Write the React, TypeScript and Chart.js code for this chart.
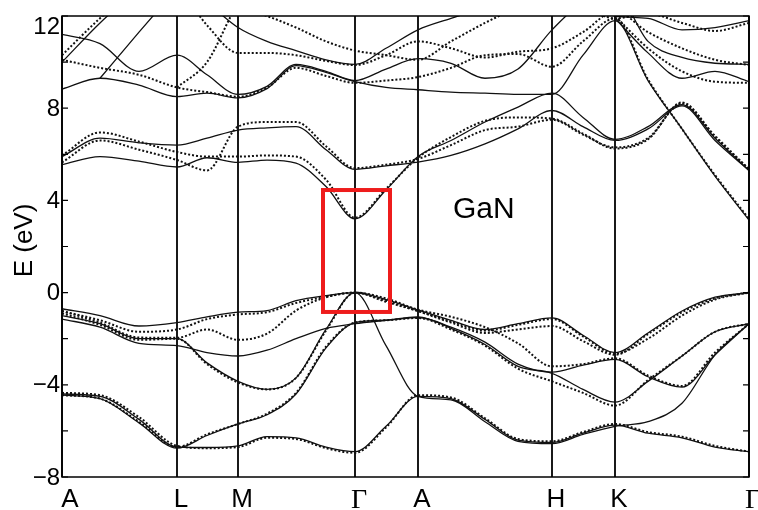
import { useEffect, useRef } from 'react';
import { Chart, registerables } from 'chart.js';

Chart.register(...registerables);

// k-path sample positions (arbitrary path-length units)
const kGrid = [0, 38, 77, 115, 145, 176, 205, 234, 264, 293, 324, 356, 389, 423, 456, 490, 521, 553, 586, 620, 653, 687];
const symK = [0, 115, 176, 293, 356, 490, 553, 687];
const symLabels = ['A', 'L', 'M', 'Γ', 'A', 'H', 'K', 'Γ'];
const yTicks = [-8, -6, -4, -2, 0, 2, 4, 6, 8, 10, 12];
const yLabelTicks = [-8, -4, 0, 4, 8, 12];
const highlightK = [261, 328];
const highlightE = [-0.84, 4.45];
const materialLabel = 'GaN';
const materialPos = [391, 3.25];

// Valence bands (eV) on kGrid
const VS1 = [-4.4, -4.5, -5.5, -6.7, -6.72, -6.65, -6.25, -6.3, -6.7, -6.9, -5.8, -4.5, -4.6, -5.5, -6.4, -6.5, -6.1, -5.75, -6.1, -6.3, -6.7, -6.9];
const VD1 = [-4.35, -4.45, -5.4, -6.65, -6.75, -6.7, -6.3, -6.35, -6.75, -6.95, -5.85, -4.45, -4.55, -5.45, -6.35, -6.45, -6.05, -5.7, -6.05, -6.25, -6.65, -6.9];
const VS2 = [-4.45, -4.6, -5.65, -6.75, -6.2, -5.7, -5.3, -4.4, -2.4, -1.3, -1.2, -1.08, -1.5, -2.15, -3.1, -3.45, -3.15, -2.9, -3.65, -4.1, -2.7, -1.35];
const VD2 = [-4.45, -4.6, -5.6, -6.7, -6.15, -5.7, -5.25, -4.35, -2.35, -1.3, -1.2, -1.1, -1.6, -2.3, -3.3, -3.85, -4.35, -4.9, -3.8, -2.75, -1.7, -1.35];
const VS3 = [-1.15, -1.5, -2.2, -2.3, -2.6, -2.75, -2.5, -2.0, -1.55, -1.35, -1.2, -1.05, -1.55, -2.25, -3.2, -3.5, -4.2, -4.75, -3.85, -2.75, -1.7, -1.35];
const VD3 = [-0.8, -1.3, -1.95, -1.96, -1.6, -2.05, -1.78, -0.78, -0.2, 0, -0.4, -0.8, -1.25, -1.65, -1.4, -1.15, -1.9, -2.65, -2.0, -1.0, -0.3, 0];
const VS4 = [-0.7, -1.0, -1.45, -1.3, -1.05, -0.85, -0.78, -0.35, -0.13, 0, -0.3, -0.75, -1.2, -1.6, -1.35, -1.1, -1.85, -2.6, -1.75, -0.8, -0.2, 0];
const VD4 = [-0.8, -1.2, -1.7, -1.6, -1.15, -0.95, -0.85, -0.45, -0.18, 0, -0.35, -0.8, -1.3, -1.75, -1.6, -1.45, -2.1, -2.7, -1.8, -0.85, -0.25, 0];
const VS5 = [-1.0, -1.35, -2.0, -2.0, -3.05, -3.85, -4.2, -3.7, -1.6, 0, -2.3, -4.5, -4.65, -5.6, -6.45, -6.55, -6.15, -5.8, -5.6, -4.8, -2.7, -1.35];
const VD5 = [-0.9, -1.4, -2.05, -2.0, -3.1, -3.9, -4.2, -3.7, -1.65, 0, -0.25, -0.74, -1.05, -1.5, -2.2, -3.2, -3.1, -2.85, -3.6, -4.05, -2.6, -1.35];

// Conduction bands (eV) on kGrid (null = not drawn)
const N = null;
const CS1 = [5.55, 5.9, 5.7, 5.45, 5.85, 5.65, 5.75, 5.62, 4.6, 3.2, 4.45, 5.9, 6.6, 7.4, 8.05, 8.65, 7.6, 6.65, 7.2, 8.15, 6.7, 5.3];
const CS2 = [5.9, 6.7, 6.5, 6.4, 6.7, 7.05, 7.15, 7.2, 6.2, 5.35, 5.5, 5.66, 5.95, 6.45, 7.1, 7.9, 7.2, 6.6, 7.1, 8.1, 6.6, 5.3];
const CD1 = [5.65, 6.6, 6.2, 5.75, 5.3, 7.2, 7.4, 7.4, 6.35, 5.4, 5.55, 5.8, 6.4, 7.05, 7.2, 7.5, 6.85, 6.3, 6.7, 8.2, 6.8, 5.35];
const CD2 = [5.95, 6.95, 6.55, 6.1, 5.9, 5.9, 5.95, 5.9, 4.9, 3.25, 4.5, 5.85, 6.75, 7.45, 7.6, 7.55, 6.9, 6.25, 6.65, 8.25, 6.75, 5.35];
const CS3 = [8.83, 9.3, 9.0, 8.5, 8.65, 8.45, 8.85, 9.85, 9.55, 9.15, 8.9, 8.8, 8.7, 8.65, 8.6, 8.6, 10.3, 11.8, 9.2, 7.1, 5.05, 3.15];
const CD3 = [10.1, 9.75, 9.45, 8.9, 8.7, 8.5, 8.9, 9.75, 9.4, 9.1, 9.2, 9.35, 9.75, 10.3, 10.35, 9.8, 10.9, 11.9, 9.25, 7.1, 5.1, 3.2];
const CS4 = [11.2, 10.8, 9.6, 10.3, 9.45, 8.6, 8.95, 9.9, 9.6, 9.2, 9.7, 10.15, 9.95, 9.3, 9.7, 11.4, 12.6, 13.0, 10.9, 10.2, 9.95, 9.9];
const CD4 = [13.5, 13.5, 13.5, 13.2, 11.6, 10.4, 10.4, 10.3, 10.05, 9.87, 10.3, 10.9, 10.6, 10.2, 10.45, 10.6, 11.3, 12.2, 11.3, 10.6, 10.1, 9.87];
const CD5 = [N, N, N, 8.9, 10.0, 12.5, 13.5, N, N, N, N, N, N, N, N, N, N, N, N, N, N, N];
const CS5 = [10.0, 11.7, 13.2, N, N, N, N, N, N, N, N, N, N, N, N, N, N, N, N, N, N, N];
const CD9 = [10.3, 11.9, 13.3, N, N, N, N, N, N, N, N, N, N, N, N, N, N, N, N, N, N, N];
const CS6 = [N, 9.3, 11.3, 13.2, N, N, N, N, N, N, N, N, N, N, N, N, N, N, N, N, N, N];
const CS7 = [N, N, N, N, 12.6, 11.5, 10.9, 10.5, 10.1, 9.9, 10.6, 11.4, 11.9, 12.4, 13.2, N, N, N, N, N, N, N];
const CD6 = [N, N, N, N, N, 12.4, 12.0, 11.5, 10.9, 10.5, 10.3, 10.1, 10.9, 11.7, 12.4, 13.2, N, N, N, N, N, N];
const CS8 = [N, N, N, N, N, N, N, N, N, N, N, N, N, N, N, N, 12.6, 12.0, 11.9, 11.4, 11.5, 11.8];
const CD7 = [N, N, N, N, N, N, N, N, N, N, N, N, N, N, N, 13.0, 12.4, 11.9, 12.1, 11.7, 11.35, 11.7];
const CS9 = [N, N, N, N, N, N, N, N, N, N, N, N, N, N, N, N, N, 11.9, 10.4, 9.3, 9.6, 9.15];
const CD8 = [N, N, N, N, N, N, N, N, N, N, N, N, N, N, N, N, N, 12.0, 10.6, 9.6, 9.15, 9.1];

const solidBands = [VS1, VS2, VS3, VS4, VS5, CS1, CS2, CS3, CS4, CS5, CS6, CS7, CS8, CS9];
const dottedBands = [VD1, VD2, VD3, VD4, VD5, CD1, CD2, CD3, CD4, CD5, CD6, CD7, CD8, CD9];

const SANS = '"Liberation Sans", Arial, Helvetica, sans-serif';
const SERIF = '"Liberation Serif", "Times New Roman", serif';

const toPts = (arr: (number | null)[]) => arr.map((e, i) => ({ x: kGrid[i], y: e }));

const overlay = {
  id: 'overlay',
  beforeDatasetsDraw(chart: any) {
    const { ctx, chartArea, scales } = chart;
    const { top, bottom } = chartArea;
    ctx.save();
    ctx.strokeStyle = '#000';
    ctx.lineWidth = 1.8;
    symK.forEach((k) => {
      const px = scales.x.getPixelForValue(k);
      ctx.beginPath();
      ctx.moveTo(px, top);
      ctx.lineTo(px, bottom);
      ctx.stroke();
    });
    ctx.restore();
  },
  afterDatasetsDraw(chart: any) {
    const { ctx, chartArea, scales } = chart;
    const { left, right, top, bottom } = chartArea;
    const xs = scales.x;
    const ys = scales.y;
    ctx.save();
    // frame
    ctx.strokeStyle = '#000';
    ctx.lineWidth = 1.5;
    ctx.strokeRect(left, top, right - left, bottom - top);
    // inner ticks
    ctx.lineWidth = 1.2;
    yTicks.forEach((t) => {
      const py = ys.getPixelForValue(t);
      ctx.beginPath();
      ctx.moveTo(left, py);
      ctx.lineTo(left + 6, py);
      ctx.moveTo(right, py);
      ctx.lineTo(right - 6, py);
      ctx.stroke();
    });
    // y tick labels
    ctx.fillStyle = '#000';
    ctx.font = '24px ' + SANS;
    ctx.textAlign = 'right';
    yLabelTicks.forEach((t) => {
      const py = ys.getPixelForValue(t);
      const txt = t < 0 ? '\u2212' + Math.abs(t) : String(t);
      if (t === yLabelTicks[yLabelTicks.length - 1]) {
        ctx.textBaseline = 'top';
        ctx.fillText(txt, left - 2, py - 1);
      } else {
        ctx.textBaseline = 'middle';
        ctx.fillText(txt, left - 2, py + 1);
      }
    });
    // x labels
    ctx.textAlign = 'center';
    ctx.textBaseline = 'alphabetic';
    symLabels.forEach((lab, i) => {
      const px = xs.getPixelForValue(symK[i]) + (i === 0 ? 8 : 4);
      ctx.font = lab === 'Γ' ? '28px ' + SERIF : '26px ' + SANS;
      ctx.fillText(lab, px, bottom + (lab === 'Γ' ? 31 : 30));
    });
    // y title
    ctx.save();
    ctx.font = '26px ' + SANS;
    ctx.translate(25, (top + bottom) / 2 - 6);
    ctx.rotate(-Math.PI / 2);
    ctx.textAlign = 'center';
    ctx.textBaseline = 'middle';
    ctx.fillText('E (eV)', 0, 0);
    ctx.restore();
    // material label
    ctx.font = '30px ' + SANS;
    ctx.textAlign = 'left';
    ctx.textBaseline = 'alphabetic';
    ctx.fillText(materialLabel, xs.getPixelForValue(materialPos[0]), ys.getPixelForValue(materialPos[1]));
    // highlight box
    const x0 = xs.getPixelForValue(highlightK[0]);
    const x1 = xs.getPixelForValue(highlightK[1]);
    const y0 = ys.getPixelForValue(highlightE[1]);
    const y1 = ys.getPixelForValue(highlightE[0]);
    ctx.strokeStyle = '#ee1c1c';
    ctx.lineWidth = 4;
    ctx.strokeRect(x0, y0, x1 - x0, y1 - y0);
    ctx.restore();
  },
};

export default function App() {
  const ref = useRef<HTMLCanvasElement | null>(null);
  useEffect(() => {
    document.body.style.margin = '0';
    document.body.style.overflow = 'hidden';
    const canvas = ref.current;
    if (!canvas) return;
    const datasets: any[] = [];
    solidBands.forEach((b) =>
      datasets.push({
        data: toPts(b),
        borderColor: '#111',
        borderWidth: 1.3,
        pointRadius: 0,
        fill: false,
        cubicInterpolationMode: 'monotone',
      })
    );
    dottedBands.forEach((b) =>
      datasets.push({
        data: toPts(b),
        borderColor: '#111',
        borderWidth: 2,
        borderDash: [2, 2],
        borderCapStyle: 'butt',
        pointRadius: 0,
        fill: false,
        cubicInterpolationMode: 'monotone',
      })
    );
    const chart = new Chart(canvas, {
      type: 'line',
      data: { datasets },
      options: {
        responsive: false,
        maintainAspectRatio: false,
        animation: false,
        events: [],
        parsing: true,
        layout: { padding: { left: 62, right: 9, top: 16, bottom: 33 } },
        plugins: { legend: { display: false }, tooltip: { enabled: false } },
        scales: {
          x: { type: 'linear', min: 0, max: 687, display: false },
          y: { type: 'linear', min: -8, max: 12, display: false },
        },
      },
      plugins: [overlay],
    } as any);
    return () => chart.destroy();
  }, []);
  return (
    <div style={{ width: 758, height: 510, background: '#fff' }}>
      <canvas ref={ref} width={758} height={510} style={{ display: 'block' }} />
    </div>
  );
}
